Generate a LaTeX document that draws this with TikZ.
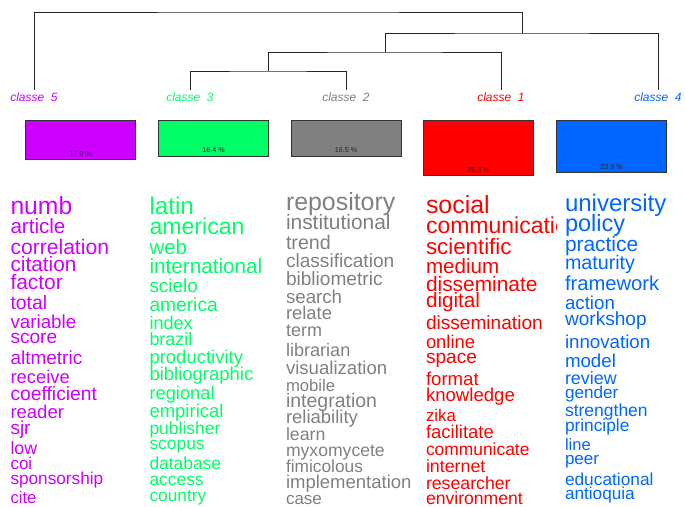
\documentclass[tikz,border=0pt]{standalone}
\usepackage{fontspec}
\setmainfont{Liberation Sans}

\definecolor{clsone}{HTML}{FF0000}
\definecolor{clstwo}{HTML}{808080}
\definecolor{clsthree}{HTML}{00FF66}
\definecolor{clsfour}{HTML}{0066FF}
\definecolor{clsfive}{HTML}{CC00FF}

\begin{document}
\begin{tikzpicture}[x=1pt, y=-1pt,
	tree/.style={line width=0.9pt, black!85},
	classe/.style={font=\fontsize{12}{12}\selectfont\itshape, inner sep=0pt},
	bar/.style={draw=black!80, line width=0.8pt, minimum width=110pt, inner sep=0pt, anchor=north},
	pct/.style={font=\fontsize{7.2}{7.2}\selectfont, inner sep=0pt, anchor=base, text=black!85},
	word/.style={anchor=base west, inner sep=0pt, outer sep=0pt, yshift=-1.5pt}]

	\useasboundingbox (0,0) rectangle (685,506);
	\clip (0,0) rectangle (685,506);

	% Draw the class labels and leaf ends
	\node[classe, text=clsfive] (c5) at (34,97) {classe~~5};
	\node[classe, text=clsthree] (c3) at (190,97) {classe~~3};
	\node[classe, text=clstwo] (c2) at (346,97) {classe~~2};
	\node[classe, text=clsone] (c1) at (501,97) {classe~~1};
	\node[classe, text=clsfour] (c4) at (658,97) {classe~~4};
	\coordinate (t5) at (34,90);
	\coordinate (t3) at (190,90);
	\coordinate (t2) at (346,90);
	\coordinate (t1) at (501,90);
	\coordinate (t4) at (658,90);

	% Draw the dendrogram
	\coordinate (m1) at (268,71);
	\coordinate (m2) at (385,52);
	\coordinate (m3) at (522,33);
	\coordinate (m4) at (278,12);
	\draw[tree] (t3) |- (m1) -| (t2);
	\draw[tree] (m1) |- (m2) -| (t1);
	\draw[tree] (m2) |- (m3) -| (t4);
	\draw[tree] (t5) |- (m4) -| (m3);

	% Draw the class size bars
	\node[bar, fill=clsfive, minimum height=38.5pt] (bar5) at (80.5,120) {};
	\node[bar, fill=clsthree, minimum height=35.6pt] (bar3) at (213.5,120) {};
	\node[bar, fill=clstwo, minimum height=35.8pt] (bar2) at (346,120) {};
	\node[bar, fill=clsone, minimum height=54.5pt] (bar1) at (478.6,120) {};
	\node[bar, fill=clsfour, minimum height=51.8pt] (bar4) at (611.5,120) {};
	\node[pct] (pct5) at ([yshift=2.5pt]bar5.south) {17.9 \%};
	\node[pct] (pct3) at ([yshift=4pt]bar3.south) {16.4 \%};
	\node[pct] (pct2) at ([yshift=4pt]bar2.south) {16.5 \%};
	\node[pct] (pct1) at ([yshift=2.5pt]bar1.south) {25.3 \%};
	\node[pct] (pct4) at ([yshift=3pt]bar4.south) {23.9 \%};

	% Draw the word lists
	\foreach \w/\s/\y [count=\i] in {numb/24.7/213.3, article/20.6/231.7, correlation/21.1/252.7,
		citation/20.8/270, factor/20.9/288.3, total/19.4/307.7, variable/18.8/326.7, score/19.1/341.7,
		altmetric/19/363.3, receive/18.4/381.7, coefficient/19.3/399.3, reader/18.5/416.7,
		sjr/19/432.7, low/17.8/453.3, coi/17/468.3, sponsorship/17.2/483.3, cite/16.7/502.3}
		\node[word, text=clsfive, font=\fontsize{\s}{\s}\selectfont] (five\i) at (10.5,\y) {\w};

	\foreach \w/\s/\y [count=\i] in {latin/24.2/213.3, american/23.1/232.7, web/20.5/253.3,
		international/20.7/272.3, scielo/18.9/291, america/19.2/310, index/18.1/328.3,
		brazil/17.9/344.3, productivity/18.5/361.7, bibliographic/18.5/379.3, regional/18.3/398.3,
		empirical/18.5/416, publisher/17.5/432.7, scopus/17.4/448.3, database/17.4/468.3,
		access/17.4/484, country/17.3/500}
		\node[word, text=clsthree, font=\fontsize{\s}{\s}\selectfont] (three\i) at (149.5,\y) {\w};

	\foreach \w/\s/\y [count=\i] in {repository/24.9/209, institutional/20.9/228.3, trend/19.7/248.3,
		classification/19.1/266, bibliometric/19.1/284, search/18.7/301.7, relate/18.4/318.3,
		term/18/335, librarian/18.1/355, visualization/18.6/373.3, mobile/16.7/390,
		integration/19.5/405.7, reliability/18.5/421.7, learn/17.7/439.3, myxomycete/17.6/455,
		fimicolous/17.3/471, implementation/18.5/486.7, case/17/503.3}
		\node[word, text=clstwo, font=\fontsize{\s}{\s}\selectfont] (two\i) at (286,\y) {\w};

	\begin{scope}
		\clip (420,180) rectangle (556,506);
		\foreach \w/\s/\y [count=\i] in {social/24.9/212.3, communication/23/231.7, scientific/22.3/253.3,
			medium/20.6/272.3, disseminate/20.9/290, digital/20.7/305.7, dissemination/19.1/327.7,
			online/18.4/346.7, space/19.1/361.7, format/18.6/384, knowledge/18.6/400, zika/16.9/420,
			facilitate/18.5/437.3, communicate/17.4/454, internet/17.8/471, researcher/17.7/487.7,
			environment/17.6/503.3}
			\node[word, text=clsone, font=\fontsize{\s}{\s}\selectfont] (one\i) at (426,\y) {\w};
	\end{scope}

	\foreach \w/\s/\y [count=\i] in {university/24/210, policy/23.5/230, practice/20.9/250,
		maturity/19.7/268.3, framework/20.2/289.3, action/18.7/308.3, workshop/19.1/324.3,
		innovation/18.7/346.7, model/18.7/366, review/17.9/383.3, gender/17.1/397.3,
		strengthen/17.5/415, principle/17.3/430, line/16.5/449.3, peer/17/463.3,
		educational/17.3/484.3, antioquia/17.2/498.3}
		\node[word, text=clsfour, font=\fontsize{\s}{\s}\selectfont] (four\i) at (565,\y) {\w};

\end{tikzpicture}
\end{document}
